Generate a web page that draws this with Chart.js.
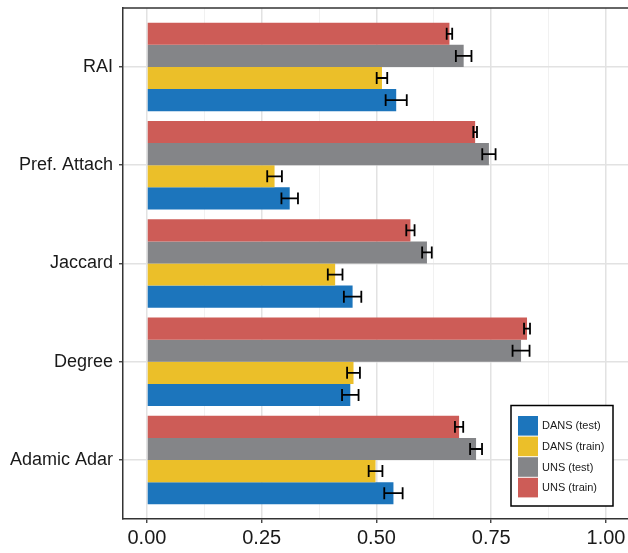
<!DOCTYPE html>
<html>
<head>
<meta charset="utf-8">
<script src="https://cdn.jsdelivr.net/npm/chart.js@4/dist/chart.umd.min.js"></script>
<style>
  html, body { margin: 0; padding: 0; background: #ffffff; }
  #wrap { width: 628px; height: 553px; }
</style>
</head>
<body>
<div id="wrap"><canvas id="c" width="628" height="553"></canvas></div>
<script>
// Link-prediction heuristics, listed top to bottom
const categories = ['RAI', 'Pref. Attach', 'Jaccard', 'Degree', 'Adamic Adar'];

// Mean scores per heuristic (same order as categories)
const unsTrain  = [0.659, 0.715, 0.574, 0.828, 0.680];
const unsTest   = [0.690, 0.745, 0.610, 0.815, 0.717];
const dansTrain = [0.512, 0.278, 0.410, 0.450, 0.498];
const dansTest  = [0.543, 0.311, 0.448, 0.443, 0.537];

// Half-widths of the error bars
const unsTrainErr  = [0.006, 0.004, 0.009, 0.0065, 0.009];
const unsTestErr   = [0.017, 0.0145, 0.0105, 0.0185, 0.013];
const dansTrainErr = [0.0115, 0.016, 0.016, 0.014, 0.015];
const dansTestErr  = [0.023, 0.018, 0.019, 0.018, 0.020];

const xTicks = [0, 0.125, 0.25, 0.375, 0.5, 0.625, 0.75, 0.875, 1.0];
const xMajor = [0, 0.25, 0.5, 0.75, 1.0];
const xTickLabels = ['0.00', '0.25', '0.50', '0.75', '1.00'];

const seriesNames = ['UNS (train)', 'UNS (test)', 'DANS (train)', 'DANS (test)'];
const seriesColors = ['#CD5C57', '#848588', '#EBBF29', '#1C75BC'];
const seriesValues = [unsTrain, unsTest, dansTrain, dansTest];
const seriesErrors = [unsTrainErr, unsTestErr, dansTrainErr, dansTestErr];

// Legend order (bottom series first)
const legendOrder = [3, 2, 1, 0];

const FONT = '"Liberation Sans", Arial, Helvetica, sans-serif';
const nCat = categories.length;
const catPos = categories.map((_, i) => nCat - i);

const datasets = seriesNames.map((name, s) => ({
  label: name,
  data: seriesValues[s].map((v, i) => ({ x: v, y: catPos[i] })),
  errors: seriesErrors[s],
  backgroundColor: seriesColors[s],
  borderWidth: 0,
  categoryPercentage: 0.9,
  barPercentage: 1.0
}));

const majorIndex = v => xMajor.findIndex(m => Math.abs(m - v) < 1e-9);
const isMajor = v => majorIndex(v) >= 0;

// Error bars with end caps
const errorBars = {
  id: 'errorBars',
  afterDatasetsDraw(chart) {
    const ctx = chart.ctx;
    const xs = chart.scales.x;
    ctx.save();
    ctx.strokeStyle = '#000000';
    ctx.lineWidth = 1.8;
    chart.data.datasets.forEach((ds, di) => {
      const meta = chart.getDatasetMeta(di);
      meta.data.forEach((el, i) => {
        const v = ds.data[i].x, e = ds.errors[i];
        const x0 = xs.getPixelForValue(v - e);
        const x1 = xs.getPixelForValue(v + e);
        const y = el.y;
        const h = el.height * 0.27;
        ctx.beginPath();
        ctx.moveTo(x0, y); ctx.lineTo(x1, y);
        ctx.moveTo(x0, y - h); ctx.lineTo(x0, y + h);
        ctx.moveTo(x1, y - h); ctx.lineTo(x1, y + h);
        ctx.stroke();
      });
    });
    ctx.restore();
  }
};

// Top panel edge and boxed legend inside the plot
const panelExtras = {
  id: 'panelExtras',
  afterDraw(chart) {
    const ctx = chart.ctx;
    const a = chart.chartArea;
    ctx.save();
    ctx.strokeStyle = '#333333';
    ctx.lineWidth = 1.5;
    ctx.beginPath();
    ctx.moveTo(a.left, a.top);
    ctx.lineTo(a.right, a.top);
    ctx.stroke();

    const bx = 511, by = 405.5, bw = 102, bh = 100.5;
    ctx.fillStyle = '#ffffff';
    ctx.fillRect(bx, by, bw, bh);
    ctx.strokeStyle = '#000000';
    ctx.lineWidth = 1.5;
    ctx.strokeRect(bx, by, bw, bh);

    const keyX = 518, keyW = 20, rowH = 20.6, top = 416;
    ctx.font = '11px ' + FONT;
    ctx.textBaseline = 'middle';
    ctx.textAlign = 'left';
    legendOrder.forEach((s, r) => {
      const y = top + r * rowH;
      ctx.fillStyle = seriesColors[s];
      ctx.fillRect(keyX, y, keyW, rowH - 1);
      ctx.fillStyle = '#1a1a1a';
      ctx.fillText(seriesNames[s], 542, y + rowH / 2);
    });
    ctx.restore();
  }
};

new Chart(document.getElementById('c'), {
  type: 'bar',
  data: { datasets },
  options: {
    indexAxis: 'y',
    responsive: false,
    animation: false,
    layout: { padding: { top: 8, right: 0, bottom: 0, left: 0 } },
    plugins: { legend: { display: false }, tooltip: { enabled: false } },
    scales: {
      x: {
        type: 'linear',
        min: -0.0522,
        max: 1.048,
        offset: false,
        afterBuildTicks(scale) { scale.ticks = xTicks.map(v => ({ value: v })); },
        afterFit(scale) {
          scale.height = 34;
          scale.paddingLeft = 0;
          scale.paddingRight = 0;
        },
        grid: {
          offset: false,
          color: ctx => (ctx.tick && isMajor(ctx.tick.value)) ? '#E2E2E2' : '#EDEDED',
          lineWidth: ctx => (ctx.tick && isMajor(ctx.tick.value)) ? 1.5 : 0.8,
          drawTicks: true,
          tickLength: 4,
          tickColor: ctx => (ctx.tick && isMajor(ctx.tick.value)) ? '#333333' : 'rgba(0,0,0,0)',
          tickWidth: 1.3
        },
        border: { display: true, color: '#333333', width: 1.5 },
        ticks: {
          autoSkip: false,
          maxRotation: 0,
          padding: 3,
          color: '#1a1a1a',
          font: { family: FONT, size: 20 },
          callback: v => {
            const k = majorIndex(v);
            return k < 0 ? '' : xTickLabels[k];
          }
        }
      },
      y: {
        type: 'linear',
        min: 0.4,
        max: 5.6,
        offset: false,
        afterBuildTicks(scale) { scale.ticks = catPos.map(p => ({ value: p })); },
        afterFit(scale) {
          scale.width = 123;
          scale.paddingTop = 0;
          scale.paddingBottom = 0;
        },
        grid: {
          offset: false,
          color: '#E2E2E2',
          lineWidth: 1.5,
          drawTicks: true,
          tickLength: 4,
          tickColor: '#333333',
          tickWidth: 1.3
        },
        border: { display: true, color: '#333333', width: 1.5 },
        ticks: {
          autoSkip: false,
          padding: 6,
          color: '#1a1a1a',
          font: { family: FONT, size: 18 },
          callback: v => {
            const i = catPos.indexOf(Math.round(v));
            return i >= 0 ? categories[i] : '';
          }
        }
      }
    }
  },
  plugins: [errorBars, panelExtras]
});
</script>
</body>
</html>
